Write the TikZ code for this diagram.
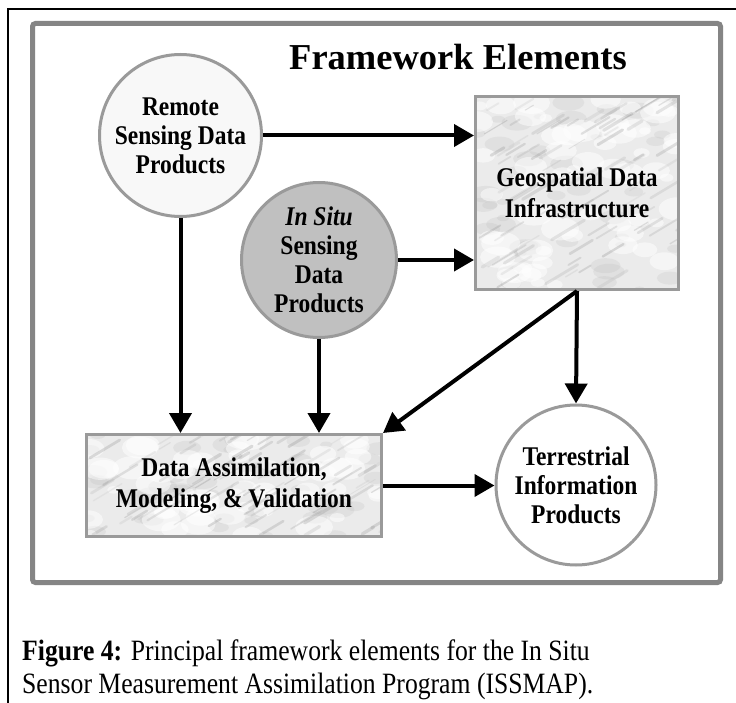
\documentclass[tikz,border=0pt]{standalone}
\usepackage{fontspec}
\setmainfont{Liberation Serif}
\newfontfamily\tallserif[FakeStretch=0.87]{Liberation Serif}
\usetikzlibrary{arrows.meta}
\definecolor{framegray}{HTML}{858585}
\definecolor{bordergray}{HTML}{9A9A9A}
\definecolor{insitufill}{HTML}{C0C0C0}
\definecolor{lightfill}{HTML}{F8F8F8}
\newcommand\marblefill[4]{%
  \begin{scope}
    \clip (#1,#2) rectangle (#3,#4);
    \fill[black!8] (#1,#2) rectangle (#3,#4);
    \foreach \k in {1,...,45}{%
      \pgfmathsetmacro\mx{#1+(#3-#1)*rnd}%
      \pgfmathsetmacro\my{#2+(#4-#2)*rnd}%
      \pgfmathsetmacro\mr{5+12*rnd}%
      \fill[black!30, opacity=0.18] (\mx,\my) ellipse [x radius=\mr pt, y radius=0.5*\mr pt];
    }
    \foreach \k in {1,...,60}{%
      \pgfmathsetmacro\mx{#1+(#3-#1)*rnd}%
      \pgfmathsetmacro\my{#2+(#4-#2)*rnd}%
      \pgfmathsetmacro\mr{6+14*rnd}%
      \fill[white, opacity=0.5] (\mx,\my) ellipse [x radius=\mr pt, y radius=0.6*\mr pt];
    }
    \foreach \k in {1,...,80}{%
      \pgfmathsetmacro\mx{#1+(#3-#1)*rnd}%
      \pgfmathsetmacro\my{#2+(#4-#2)*rnd}%
      \pgfmathsetmacro\ml{8+26*rnd}%
      \pgfmathtruncatemacro\mg{22+30*rnd}%
      \pgfmathsetmacro\mw{0.8+2.5*rnd}%
      \draw[black!\mg, opacity=0.25, line width=\mw pt, line cap=round] (\mx,\my) -- ++(\ml,-0.6*\ml);
    }
  \end{scope}}
\tikzset{
  circnode/.style={circle, draw=bordergray, line width=3pt, inner sep=0pt, align=center,
    font=\tallserif\fontsize{27}{29}\selectfont\bfseries},
  boxnode/.style={rectangle, draw=bordergray, line width=3pt, inner sep=0pt, align=center,
    font=\tallserif\fontsize{27}{31}\selectfont\bfseries},
  flow/.style={line width=4pt, -{Triangle[length=20pt,width=22pt]}},
}
\begin{document}
\begin{tikzpicture}[x=1pt,y=-1pt]
\useasboundingbox (0,0) rectangle (736,703);
\fill[white] (0,0) rectangle (736,703);
\draw[line width=1.5pt] (8,703) -- (8,9) -- (736,9);
\draw[framegray, line width=5pt, rounded corners=3pt] (32.5,23.5) rectangle (720.5,582.5);
\pgfmathsetseed{7}
\marblefill{475.5}{96.5}{678.5}{289.5}
\marblefill{86.5}{434.5}{381.5}{536.5}
\node[font=\fontsize{36.5}{40}\selectfont\bfseries, anchor=base] (title) at (458,70) {Framework Elements};
\node[circnode, fill=lightfill, minimum size=162pt] (remote) at (180.5,135.5) {Remote\\Sensing Data\\Products};
\node[circnode, fill=insitufill, minimum size=155pt] (insitu) at (319,260) {\textit{In Situ}\\Sensing\\Data\\Products};
\node[circnode, fill=white, minimum size=160pt] (terr) at (576,485) {Terrestrial\\Information\\Products};
\node[boxnode, minimum width=203pt, minimum height=193pt] (geo) at (577,193) {Geospatial Data\\Infrastructure};
\node[boxnode, minimum width=295pt, minimum height=102pt] (assim) at (234,485.5) {Data Assimilation,\\Modeling, \& Validation};
\draw[flow] (remote.east) -- (remote.east -| geo.west);
\draw[flow] (insitu.east) -- (insitu.east -| geo.west);
\draw[flow] (remote.south) -- (remote.south |- assim.north);
\draw[flow] (insitu.south) -- (insitu.south |- assim.north);
\draw[flow] (geo.south) -- (assim.north east);
\draw[flow] (geo.south) -- (terr.north);
\draw[flow] (assim.east) -- (assim.east -| terr.west);
\node[anchor=north west, align=left, inner sep=0pt, font=\tallserif\fontsize{29.5}{32.5}\selectfont] (caption) at (22,640)
  {\textbf{Figure 4:} Principal framework elements for the In Situ\\Sensor Measurement Assimilation Program (ISSMAP).};
\end{tikzpicture}
\end{document}
